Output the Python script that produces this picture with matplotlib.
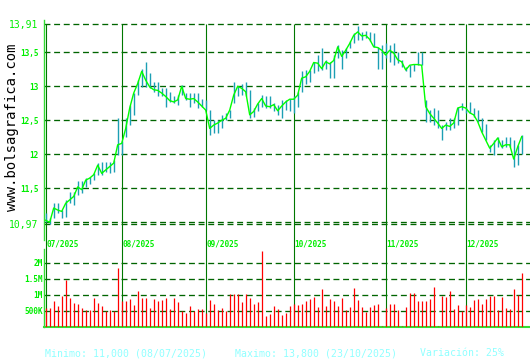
import matplotlib
matplotlib.use("Agg")
import matplotlib.pyplot as plt
import pandas as pd

# ---------------- data ----------------
start_date = "2025-07-07"
close = [11.03, 11.00, 11.21, 11.18, 11.16, 11.28, 11.33, 11.38, 11.52, 11.48,
         11.62, 11.65, 11.70, 11.84, 11.72, 11.77, 11.82, 11.87, 12.14, 12.16,
         12.38, 12.68, 12.90, 13.04, 13.22, 13.09, 12.99, 12.95, 12.94, 12.90,
         12.85, 12.79, 12.77, 12.80, 13.00, 12.82, 12.81, 12.82, 12.77, 12.71,
         12.65, 12.38, 12.43, 12.46, 12.50, 12.53, 12.65, 12.87, 13.00, 12.97,
         12.92, 12.58, 12.63, 12.74, 12.82, 12.71, 12.70, 12.73, 12.64, 12.71,
         12.77, 12.81, 12.81, 12.87, 13.12, 13.14, 13.22, 13.35, 13.34, 13.26,
         13.36, 13.33, 13.38, 13.58, 13.44, 13.53, 13.63, 13.75, 13.80, 13.74,
         13.75, 13.69, 13.58, 13.57, 13.53, 13.46, 13.53, 13.49, 13.39, 13.36,
         13.24, 13.31, 13.32, 13.32, 13.31, 12.70, 12.60, 12.53, 12.46, 12.38,
         12.43, 12.41, 12.46, 12.68, 12.70, 12.68, 12.61, 12.58, 12.48, 12.33,
         12.21, 12.09, 12.16, 12.24, 12.11, 12.14, 12.14, 11.93, 12.11, 12.26]
high = [11.13, 11.06, 11.28, 11.28, 11.18, 11.33, 11.45, 11.45, 11.60, 11.60,
        11.65, 11.67, 11.72, 11.87, 11.89, 11.89, 11.89, 11.92, 12.53, 12.19,
        12.53, 12.73, 12.90, 13.09, 13.26, 13.36, 13.19, 13.07, 13.07, 12.97,
        12.97, 12.92, 12.85, 12.87, 13.02, 12.90, 12.90, 12.90, 12.90, 12.82,
        12.80, 12.65, 12.50, 12.50, 12.58, 12.60, 12.65, 13.07, 13.01, 13.04,
        13.07, 12.95, 12.68, 12.75, 12.87, 12.85, 12.85, 12.75, 12.73, 12.80,
        12.80, 12.82, 12.85, 12.92, 13.22, 13.24, 13.24, 13.36, 13.46, 13.56,
        13.39, 13.36, 13.46, 13.61, 13.53, 13.56, 13.66, 13.78, 13.89, 13.80,
        13.82, 13.80, 13.79, 13.58, 13.61, 13.63, 13.61, 13.63, 13.51, 13.39,
        13.29, 13.31, 13.33, 13.51, 13.51, 12.80, 12.65, 12.68, 12.65, 12.43,
        12.48, 12.53, 12.53, 12.70, 12.75, 12.70, 12.77, 12.68, 12.65, 12.53,
        12.45, 12.14, 12.21, 12.26, 12.21, 12.26, 12.26, 12.21, 12.14, 12.28]
low = [11.01, 10.98, 11.06, 11.13, 11.06, 11.08, 11.28, 11.25, 11.40, 11.43,
       11.52, 11.57, 11.62, 11.70, 11.70, 11.74, 11.72, 11.74, 11.99, 11.99,
       12.26, 12.43, 12.58, 12.87, 12.99, 12.99, 12.97, 12.92, 12.85, 12.85,
       12.70, 12.77, 12.75, 12.73, 12.87, 12.80, 12.70, 12.75, 12.68, 12.70,
       12.65, 12.28, 12.31, 12.31, 12.38, 12.50, 12.53, 12.75, 12.85, 12.87,
       12.85, 12.53, 12.55, 12.63, 12.70, 12.68, 12.68, 12.63, 12.58, 12.53,
       12.65, 12.63, 12.60, 12.70, 12.92, 13.04, 13.07, 13.19, 13.22, 13.24,
       13.26, 13.12, 13.12, 13.41, 13.26, 13.41, 13.56, 13.63, 13.68, 13.68,
       13.71, 13.66, 13.58, 13.26, 13.26, 13.41, 13.36, 13.31, 13.34, 13.29,
       13.22, 13.14, 13.22, 13.31, 13.31, 12.48, 12.48, 12.43, 12.38, 12.21,
       12.36, 12.36, 12.38, 12.43, 12.65, 12.60, 12.60, 12.55, 12.48, 12.33,
       12.21, 12.04, 11.99, 12.11, 12.09, 12.11, 12.11, 11.82, 11.84, 12.01]
volume_m = [0.60, 0.60, 0.81, 0.66, 0.97, 1.47, 0.91, 0.75, 0.72, 0.59,
            0.52, 0.52, 0.91, 0.75, 0.66, 0.50, 0.52, 0.50, 1.84, 0.81,
            0.81, 0.88, 0.69, 1.13, 0.91, 0.91, 0.59, 0.88, 0.81, 0.84,
            0.91, 0.56, 0.91, 0.78, 0.50, 0.44, 0.66, 0.50, 0.56, 0.56,
            0.45, 0.84, 0.72, 0.53, 0.59, 0.50, 1.02, 1.02, 1.02, 0.78,
            1.02, 0.91, 0.72, 0.78, 2.38, 0.34, 0.41, 0.66, 0.56, 0.38,
            0.44, 0.66, 0.72, 0.69, 0.72, 0.81, 0.88, 0.94, 0.63, 1.19,
            0.66, 0.88, 0.81, 0.66, 0.91, 0.53, 0.63, 1.22, 0.84, 0.63,
            0.47, 0.63, 0.69, 0.72, 0.03, 0.60, 0.72, 0.72, 0.53, 0.03,
            0.63, 1.06, 1.06, 0.81, 0.81, 0.81, 0.88, 1.25, 0.03, 0.97,
            0.94, 1.13, 0.56, 0.69, 0.50, 0.69, 0.63, 0.84, 0.88, 0.72,
            0.88, 0.97, 0.97, 0.53, 0.94, 0.59, 0.56, 1.19, 1.00, 1.69]
price_ticks = [10.97, 11.5, 12.0, 12.5, 13.0, 13.5, 13.91]
price_tick_labels = ["10,97", "11,5", "12", "12,5", "13", "13,5", "13,91"]
price_grid = [10.97, 11.0, 11.5, 12.0, 12.5, 13.0, 13.5, 13.91]
vol_ticks = [0.5, 1.0, 1.5, 2.0]
vol_tick_labels = ["500K", "1M", "1.5M", "2M"]

# ---------------- derived ----------------
dates = pd.bdate_range(start_date, periods=len(close))
x = list(range(len(close)))
month_idx = [i for i in x if i == 0 or dates[i].month != dates[i - 1].month]
month_lbl = [dates[i].strftime("%m/%Y") for i in month_idx]

# ---------------- figure ----------------
W, H = 530, 360
fig = plt.figure(figsize=(W / 100, H / 100), dpi=100, facecolor="white")

def fbox(left, top, right, bottom):
    return [left / W, 1 - bottom / H, (right - left) / W, (bottom - top) / H]

GRID = "#006400"
MONTH = "#007800"
AXIS = "#33dd33"
LBL = "#00ee00"
MONO = "DejaVu Sans Mono"

# pixel mapping: price value v at pixel y = 52.3 + (13.5 - v) * 68
ptop, pbot = 20, 240
ylim_top = 13.5 + (52.3 - ptop) / 68
ylim_bot = 13.5 - (pbot - 52.3) / 68
xl = (-0.425, 121.075)

ax = fig.add_axes(fbox(44, ptop, 530, pbot))
ax.set_xlim(*xl)
ax.set_ylim(ylim_bot, ylim_top)
for s in ["top", "right", "bottom"]:
    ax.spines[s].set_visible(False)
ax.spines["left"].set_color(AXIS)
ax.spines["left"].set_linewidth(1.0)
ax.set_xticks([])
ax.set_yticks(price_ticks)
ax.set_yticklabels(price_tick_labels)
ax.tick_params(axis="y", length=0, pad=4)
for t, lab in zip(ax.get_yticklabels(), price_tick_labels):
    t.set_family(MONO)
    t.set_color(LBL)
    if lab in ("13,91", "10,97"):
        t.set_fontsize(7.0)
    else:
        t.set_fontsize(5.6)
        t.set_fontweight("bold")

for g in price_grid:
    ax.axhline(g, color=GRID, lw=0.95, ls=(0, (4.5, 2.8)), zorder=1)

v250 = 13.5 - (250 - 52.3) / 68
v244 = 13.5 - (244 - 52.3) / 68
for i, lab in zip(month_idx, month_lbl):
    ax.vlines(i, v250, price_ticks[-1], color=MONTH, lw=0.8, zorder=2, clip_on=False)
    ax.text(i + 0.15, v244, lab, color=LBL, fontsize=5.6, family=MONO,
            fontweight="bold", ha="left", va="center", clip_on=False)

ax.vlines(x, low, high, color="#1c9fb4", lw=1.0, zorder=3)
ax.plot(x, close, color="#00ff00", lw=1.0, zorder=4)

# ---------------- volume ----------------
vtop, vbot = 249, 327
axv = fig.add_axes(fbox(44, vtop, 530, vbot))
axv.set_xlim(*xl)
axv.set_ylim(0, (vbot - vtop) / 32)
for s in ["top", "right"]:
    axv.spines[s].set_visible(False)
for s in ["left", "bottom"]:
    axv.spines[s].set_color(AXIS)
axv.spines["left"].set_linewidth(1.0)
axv.spines["bottom"].set_linewidth(1.5)
axv.set_xticks([])
axv.set_yticks(vol_ticks)
axv.set_yticklabels(vol_tick_labels)
axv.tick_params(axis="y", length=0, pad=1)
for t in axv.get_yticklabels():
    t.set_family(MONO)
    t.set_color(LBL)
    t.set_fontsize(5.6)
    t.set_fontweight("bold")
for g in vol_ticks:
    axv.axhline(g, color=GRID, lw=0.95, ls=(0, (4.5, 2.8)), zorder=1)
for i in month_idx:
    axv.axvline(i, color=MONTH, lw=0.8, zorder=2)
axv.vlines(x, 0, volume_m, color="#ff0000", lw=0.9, zorder=3)

# ---------------- texts ----------------
fig.text(12 / W, 1 - 127 / H, "www.bolsagrafica.com", rotation=90, color="black",
         family=MONO, fontsize=10, ha="center", va="center")

imin = close.index(min(close))
imax = close.index(max(close))
variation = (max(close) - min(close)) / min(close) * 100
txt_min = "Minimo: %s (%s)" % (("%.3f" % close[imin]).replace(".", ","),
                               dates[imin].strftime("%d/%m/%Y"))
txt_max = "Maximo: %s (%s)" % (("%.3f" % close[imax]).replace(".", ","),
                               dates[imax].strftime("%d/%m/%Y"))
txt_var = "Variación: %d%%" % int(variation)
for xp, s in [(45, txt_min), (235, txt_max), (420, txt_var)]:
    fig.text(xp / W, 1 - 353 / H, s, color="#90ffff", family=MONO,
             fontsize=7.1, ha="left", va="center")

fig.savefig("out.png", dpi=100, facecolor="white")
